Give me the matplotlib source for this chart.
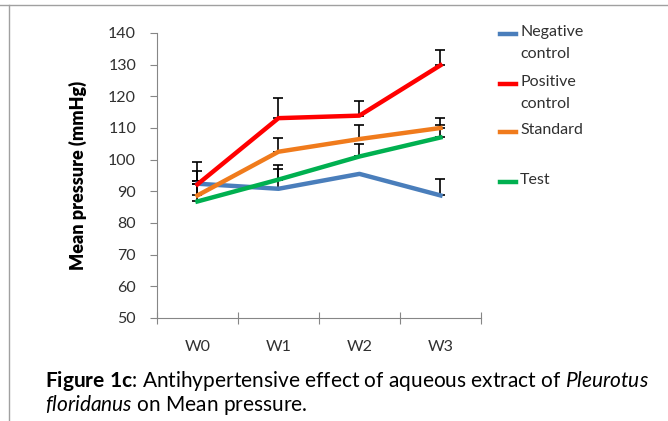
import matplotlib
matplotlib.use('Agg')
from matplotlib import pyplot as plt
import numpy as np

weeks = ['W0', 'W1', 'W2', 'W3']
negative = [92.4, 90.8, 95.5, 88.7]
positive = [92.2, 113.1, 113.9, 129.8]
standard = [88.7, 102.5, 106.5, 110.0]
test = [86.8, 93.7, 101.0, 107.0]

negative_err = [1.0, 6.1, 0.0, 5.1]
positive_err = [7.2, 6.4, 4.6, 4.8]
standard_err = [7.6, 4.4, 4.4, 3.0]
test_err = [6.3, 4.6, 3.8, 3.9]

labels = ['Negative\ncontrol', 'Positive\ncontrol', 'Standard', 'Test']
colors = ['#4a7ebb', '#ff0000', '#f07b1c', '#00b050']

plt.rcParams['font.family'] = ['Lato', 'DejaVu Sans']
plt.rcParams['mathtext.fontset'] = 'custom'
plt.rcParams['mathtext.rm'] = 'Lato'
plt.rcParams['mathtext.bf'] = 'Lato:bold'
plt.rcParams['mathtext.it'] = 'Lato:italic'

fig = plt.figure(figsize=(6.68, 4.21), dpi=100)
ax = fig.add_axes([0.235, 0.2447, 0.485, 0.677])

x = np.arange(len(weeks))
series = [negative, positive, standard, test]
errs = [negative_err, positive_err, standard_err, test_err]
for vals, err, c in zip(series, errs, colors):
    ax.errorbar(x, vals, yerr=[np.zeros(len(err)), err], color=c, lw=3.2,
                ecolor='black', elinewidth=1.2, capsize=3.6, capthick=1.2,
                zorder=3)

ax.set_xlim(-0.5, 3.5)
ax.set_ylim(50, 140)
ax.set_yticks(np.arange(50, 141, 10))
ax.set_xticks(np.arange(-0.5, 3.6, 1))
ax.set_xticklabels([])
ax.set_xticks(x, minor=True)
ax.set_xticklabels(weeks, minor=True)
ax.tick_params(axis='x', which='minor', length=0, pad=16, labelsize=11.5, colors='#303030')
ax.tick_params(axis='x', which='major', direction='inout', length=9, color='#868686')
ax.tick_params(axis='y', direction='out', length=5, color='#868686', labelsize=11.5,
               labelcolor='#303030', pad=10)
for s in ['top', 'right']:
    ax.spines[s].set_visible(False)
for s in ['left', 'bottom']:
    ax.spines[s].set_color('#868686')

ax.set_ylabel('Mean pressure (mmHg)', fontsize=13, fontweight='heavy')
ax.yaxis.set_label_coords((87 - 157) / 324, 0.5)

# legend drawn by hand to match the two-line layout
leg_y = [34, 84, 132, 182]
for lab, c, yy in zip(labels, colors, leg_y):
    fy = 1 - yy / 421
    fig.add_artist(plt.Line2D([500 / 668, 516 / 668], [fy, fy], color=c, lw=3.2))
    fig.text(520 / 668, fy + 9 / 421, lab, fontsize=11.5, va='top', ha='left',
             color='#303030', linespacing=1.75)

# document frame and caption
fig.add_artist(plt.Line2D([0, 1], [1 - 5 / 421, 1 - 5 / 421], color='#a0a0a0', lw=1))
fig.add_artist(plt.Line2D([9 / 668, 9 / 668], [0, 1 - 5 / 421], color='#a0a0a0', lw=1))
fig.text(45 / 668, 1 - 381 / 421,
         r'$\bf{Figure\ 1c}$: Antihypertensive effect of aqueous extract of $\it{Pleurotus}$',
         fontsize=15.0, va='center', ha='left')
fig.text(45 / 668, 1 - 405 / 421, r'$\it{floridanus}$ on Mean pressure.',
         fontsize=15.0, va='center', ha='left')

fig.savefig('out.png', dpi=100)
